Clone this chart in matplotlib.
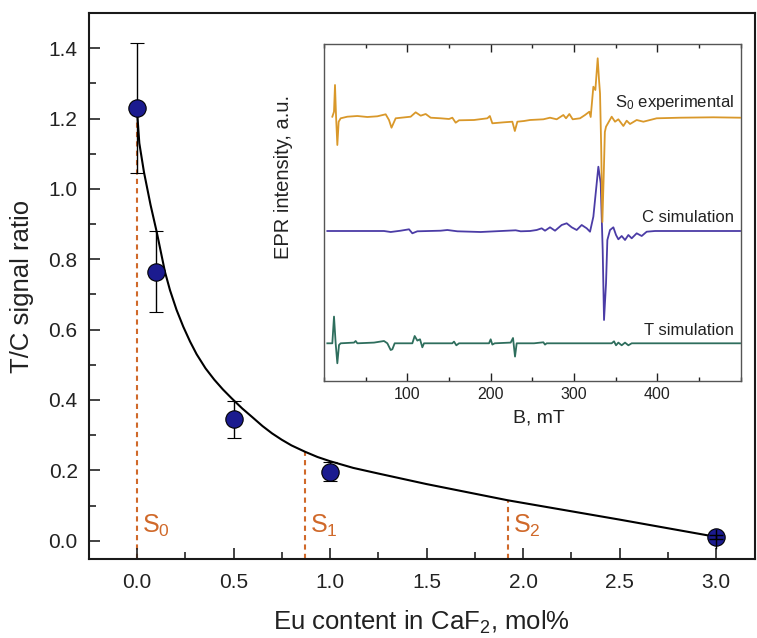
import matplotlib
matplotlib.use('Agg')
import matplotlib.pyplot as plt
from matplotlib.ticker import MultipleLocator

plt.rcParams['font.family'] = ['Liberation Sans', 'DejaVu Sans']
plt.rcParams['mathtext.fontset'] = 'custom'
plt.rcParams['mathtext.rm'] = 'Liberation Sans'
plt.rcParams['mathtext.it'] = 'Liberation Sans:italic'

# ---------------- main data ----------------
eu = [0.0, 0.1, 0.5, 1.0, 3.0]
ratio = [1.23, 0.764, 0.345, 0.196, 0.01]
ratio_err = [0.185, 0.115, 0.052, 0.027, 0.005]

fit_x = [0.0, 0.012, 0.036, 0.07, 0.102, 0.145, 0.171, 0.205, 0.24, 0.275, 0.309, 0.355, 0.4,
         0.445, 0.49, 0.545, 0.6, 0.65, 0.7, 0.75, 0.8, 0.87, 0.935, 1.0, 1.12, 1.25, 1.5,
         1.92, 2.5, 3.0]
fit_y = [1.223, 1.13, 1.048, 0.955, 0.878, 0.764, 0.712, 0.656, 0.608, 0.566, 0.53, 0.49,
         0.458, 0.43, 0.405, 0.376, 0.35, 0.326, 0.305, 0.287, 0.271, 0.253, 0.238, 0.226,
         0.207, 0.191, 0.161, 0.115, 0.06, 0.011]

s_labels = ['S$_0$', 'S$_1$', 'S$_2$']
s_pos = [0.0, 0.87, 1.92]
s_top = [1.2, 0.253, 0.115]

xticks = [0.0, 0.5, 1.0, 1.5, 2.0, 2.5, 3.0]
yticks = [0.0, 0.2, 0.4, 0.6, 0.8, 1.0, 1.2, 1.4]

# ---------------- inset data (EPR spectra) ----------------
s0_B = [10, 12, 13.2, 14.4, 16, 17.6, 20, 28, 40, 52, 64, 74, 78, 81, 86, 104, 110, 116, 122,
        128, 140, 150, 154, 158, 162, 180, 196, 199, 202, 216, 226, 229, 232, 240, 247.2,
        263.2, 271.2, 279.2, 287.2, 290.4, 294.4, 298.4, 307.2, 313.2, 318.4, 320, 323.2,
        325.6, 328.4, 330, 331.2, 332.6, 334, 335.6, 337, 338.4, 345.2, 349.2, 353.2, 359.2,
        363.2, 367.2, 375.2, 383.2, 399.2, 427.2, 467.2, 499.2]
s0_I = [0.3, 5.3, 32, 2, -28, -4.7, -1.3, 0.3, 1, 0, 0.7, 2.7, -3, -10.7, -1.3, 0.3, 4.7, 1.3, 3,
        -0.7, -1.3, -2, -0.7, -5.7, -3.3, -3, -1.3, 1, -6.3, -5.3, -4.7, -14, -4.7, -4, -3,
        -2.3, -0.7, -2.3, 2, -1.3, 3, -2.3, -1.3, 2, 5.3, 0, 30.3,
        27, 58.7, 37, 23.7, -30, -105, -60, -15, -9.7, 0.3, -4.7, -2.3, -9,
        -3.7, -7, -3, -4.7, -1.3, -0.7, -0.3, -0.7]

c_B = [4, 72, 80, 92, 102, 106, 112, 140, 148, 160, 188, 230, 236, 247.2, 255.2, 261.2, 265.2,
       271.2, 277.2, 285.2, 291.2, 297.2, 303.2, 309.2, 315.2, 319.2, 323.2, 329.2, 332,
       334.4, 336, 338.4, 340, 343.2, 347.2, 350.4, 353.2, 357.2, 361.2, 365.2, 369.2,
       375.2, 381.2, 387.2, 397.2, 499.2]
c_I = [0, 0, -1, 0.3, 1.7, -2.3, -0.3, 0.3, 1, -0.3, -1, 0.7, -0.3, 0, 1, 2.7, 0.3,
       3.7, 0.3, 6, 7.7, 3.7, 1, 6, 2.7, -0.7, 14.3, 64.3, 47.7,
       -19, -89, -52.3, -9, 1, 3.7, -4, -8.3, -5, -9, -4, -7.3,
       -2.3, -5, -0.7, 0, 0]

t_B = [4, 10, 12, 14, 16, 18, 20, 36, 38, 40, 60, 72, 76, 80, 82, 84.8, 106, 108.8, 112, 115.2,
       118, 120, 154, 156, 158.8, 162, 198, 200, 202, 204.8, 224, 226.8, 229.2, 231.2, 252,
       263.2, 265.2, 267.2, 345.2, 348, 350.4, 353.2, 357.2, 361.2, 365.2, 369.2, 499.2]
t_I = [0, 0, 26.7, 0, -20, -1.7, 0, 0.7, 2.3, 0, 0.7, 2.3, 0, -6.7, -6, 0, 0, 7.3, 2.7, 4,
       -4, 0, 0, 1.7, -2, 0, 0, 4, -1.3, 0, 0.7, 5.3, -13.3, 0, 0,
       1, -1.3, 0, 0, 2, -2, 0.7, -2, 0.7, -2, 0, 0]

inset_xticks = [100, 200, 300, 400]

# ---------------- figure ----------------
W, H = 757, 638
fig = plt.figure(figsize=(W / 100, H / 100), dpi=100)

ax = fig.add_axes([88.75 / W, 1 - 559 / H, (754.6 - 88.75) / W, (559 - 13) / H])
ax.set_xlim(-0.25, 3.2)
ax.set_ylim(-0.052, 1.5)

orange = '#d0692a'
for xs, yt, lab in zip(s_pos, s_top, s_labels):
    ax.plot([xs, xs], [-0.052, yt], color=orange, lw=1.5, ls=(0, (2.5, 2.0)), zorder=1)
    ax.text(xs + 0.028, 0.005, lab, color=orange, fontsize=18, ha='left', va='bottom')

ax.plot(fit_x, fit_y, color='black', lw=1.5, zorder=2, solid_joinstyle='round')
ax.errorbar(eu[:-1], ratio[:-1], yerr=ratio_err[:-1], fmt='o', ms=12.5, mfc='#1b1b8f',
            mec='black', mew=0.8, ecolor='black', elinewidth=1, capsize=5, capthick=1,
            zorder=3)
ax.plot(eu[-1:], ratio[-1:], 'o', ms=12.5, mfc='#1b1b8f', mec='black', mew=0.8, zorder=4)
ax.errorbar(eu[-1:], ratio[-1:], yerr=ratio_err[-1:], fmt='none', ecolor='black',
            elinewidth=1, capsize=5, capthick=1, zorder=5)
ax.plot([eu[-1], eu[-1]], [ratio[-1] - 0.03, ratio[-1] + 0.02], color='black', lw=1, zorder=5)

ax.set_xticks(xticks)
ax.set_yticks(yticks)
ax.xaxis.set_minor_locator(MultipleLocator(0.25))
ax.yaxis.set_minor_locator(MultipleLocator(0.1))
ax.xaxis.set_major_formatter(matplotlib.ticker.FormatStrFormatter('%.1f'))
ax.yaxis.set_major_formatter(matplotlib.ticker.FormatStrFormatter('%.1f'))
ax.tick_params(which='both', direction='in', top=False, right=False, width=1.2,
               labelsize=15, colors='#222222')
ax.tick_params(which='major', length=8)
ax.tick_params(axis='y', which='major', pad=8)
ax.tick_params(axis='x', which='major', pad=10)
ax.tick_params(which='minor', length=5)
for sp in ax.spines.values():
    sp.set_linewidth(1.5)
    sp.set_color('#1a1a1a')
ax.set_xlabel('Eu content in CaF$_2$, mol%', fontsize=18.5, labelpad=12, color='#222222')
ax.set_ylabel('T/C signal ratio', fontsize=18.5, labelpad=10, color='#222222')

# ---------------- inset ----------------
ins = fig.add_axes([324 / W, 1 - 381 / H, (740.7 - 324) / W, (381 - 44) / H])
ins.set_xlim(0, 500)
ins.set_ylim(-381, -44)
base_s0, base_c, base_t = -117, -231, -343.3
ins.plot(s0_B, [base_s0 + v for v in s0_I], color='#d9982a', lw=1.3, zorder=3)
ins.plot(c_B, [base_c + v for v in c_I], color='#4b3ca6', lw=1.3, zorder=2)
ins.plot(t_B, [base_t + v for v in t_I], color='#2e6e5d', lw=1.3, zorder=2)
ins.text(492, -103, 'S$_0$ experimental', fontsize=12, ha='right', va='center', color='#222222')
ins.text(492, -217, 'C simulation', fontsize=12, ha='right', va='center', color='#222222')
ins.text(492, -331, 'T simulation', fontsize=12, ha='right', va='center', color='#222222')

ins.set_xticks(inset_xticks)
ins.xaxis.set_minor_locator(MultipleLocator(50))
ins.set_yticks([])
ins.tick_params(which='both', direction='in', top=True, width=1, labelsize=11.5,
                colors='#222222')
ins.tick_params(which='major', length=5.5, pad=4)
ins.tick_params(which='minor', length=3)
for sp in ins.spines.values():
    sp.set_linewidth(1)
    sp.set_color('#555555')
ins.set_xlabel('B, mT', fontsize=14, labelpad=2, color='#222222')
ins.xaxis.set_label_coords(0.515, -0.085)
ins.set_ylabel('EPR intensity, a.u.', fontsize=14.5, color='#222222')
ins.yaxis.set_label_coords(-0.075, 0.605)

fig.savefig('out.png', dpi=100)
